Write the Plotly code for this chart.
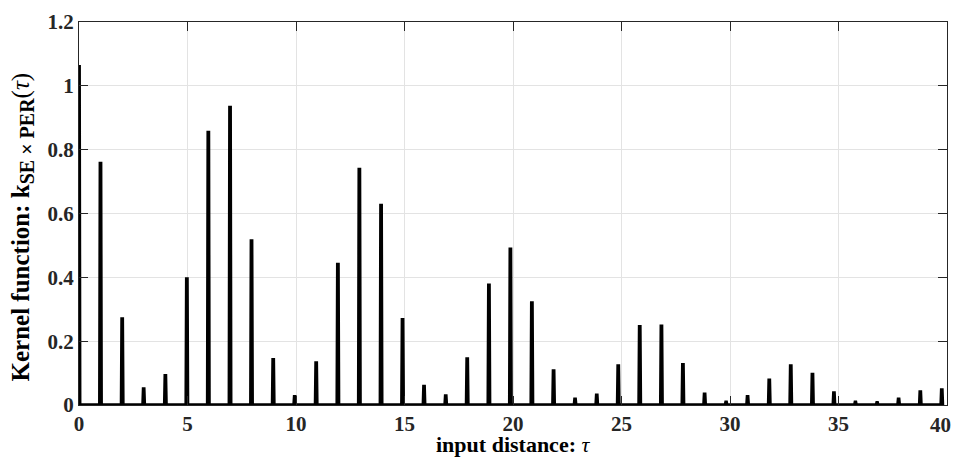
import plotly.graph_objects as go

# peak positions (tau) and peak heights
peak_tau = [0.00, 0.99, 1.99, 2.98, 3.98, 4.97, 5.96, 6.96, 7.95, 8.95,
            9.94, 10.93, 11.93, 12.92, 13.92, 14.91, 15.90, 16.90, 17.89, 18.89,
            19.88, 20.87, 21.87, 22.86, 23.86, 24.85, 25.84, 26.84, 27.83, 28.83,
            29.82, 30.81, 31.81, 32.80, 33.80, 34.79, 35.78, 36.78, 37.77, 38.77,
            39.76]
peak_k = [1.065, 0.757, 0.270, 0.050, 0.092, 0.395, 0.854, 0.932, 0.514, 0.142,
          0.026, 0.132, 0.440, 0.738, 0.625, 0.267, 0.058, 0.028, 0.144, 0.375,
          0.488, 0.320, 0.107, 0.018, 0.031, 0.122, 0.245, 0.247, 0.126, 0.034,
          0.009, 0.026, 0.078, 0.122, 0.096, 0.038, 0.009, 0.007, 0.018, 0.041,
          0.047]

x_ticks = [0, 5, 10, 15, 20, 25, 30, 35, 40]
y_ticks = [0, 0.2, 0.4, 0.6, 0.8, 1.0, 1.2]
y_tick_text = ["0", "0.2", "0.4", "0.6", "0.8", "1", "1.2"]

x_title = "<b>input distance: </b><i>τ</i>"
y_title = ("<b>Kernel function: k<sub><span style='font-size:20px'>SE × PER</span></sub></b>"
           "(<i>τ</i>)")

# spiky curve: baseline at zero, narrow flat-topped peak at each position
half_w = 0.035
xs, ys = [], []
for t, h in zip(peak_tau, peak_k):
    xs += [t - half_w, t - 0.01, t + 0.01, t + half_w]
    ys += [0.0, h, h, 0.0]

font_fam = "Liberation Serif, Times New Roman, serif"
ink = "#262626"
tick_font = dict(family=font_fam, size=21, color=ink, weight="bold")

# axis tick labels for all but the last x tick, which sits at the page edge
x_tick_text = [str(v) for v in x_ticks[:-1]] + [""]

fig = go.Figure()
fig.add_trace(go.Scatter(x=xs, y=ys, mode="lines",
                         line=dict(color="black", width=3.4),
                         hoverinfo="skip", showlegend=False))

# page body has an 8px margin, so the figure is offset to compensate
fig.update_layout(
    width=953, height=454,
    margin=dict(l=71, r=14, t=14, b=57, autoexpand=False),
    paper_bgcolor="white", plot_bgcolor="white",
    font=dict(family=font_fam, size=21, color=ink),
    showlegend=False,
    annotations=[
        dict(text=x_title, xref="paper", yref="paper", x=0.5, y=0,
             yshift=-39, xanchor="center", yanchor="middle", showarrow=False,
             font=dict(family=font_fam, size=22, color="black")),
        dict(text=y_title, xref="paper", yref="paper", x=0, y=0.5,
             xshift=-57, yshift=-14, textangle=-90,
             xanchor="center", yanchor="middle", showarrow=False,
             font=dict(family=font_fam, size=25, color="black")),
        dict(text=str(x_ticks[-1]), xref="x", yref="paper", x=x_ticks[-1], y=0,
             xshift=6, yshift=-20, xanchor="right", yanchor="middle",
             showarrow=False, font=tick_font),
    ],
)
fig.update_xaxes(
    range=[0, 40], tickvals=x_ticks, ticktext=x_tick_text,
    showgrid=True, gridcolor="#e3e3e3", gridwidth=1,
    showline=True, linecolor=ink, linewidth=1, mirror="ticks",
    ticks="inside", ticklen=9, tickcolor=ink, ticklabelstandoff=0,
    tickfont=tick_font, zeroline=False, automargin=False,
)
fig.update_yaxes(
    range=[0, 1.2], tickvals=y_ticks, ticktext=y_tick_text,
    showgrid=True, gridcolor="#e3e3e3", gridwidth=1,
    showline=True, linecolor=ink, linewidth=1, mirror="ticks",
    ticks="inside", ticklen=9, tickcolor=ink,
    tickfont=tick_font, zeroline=False, automargin=False,
)

fig.write_html("out.html")
